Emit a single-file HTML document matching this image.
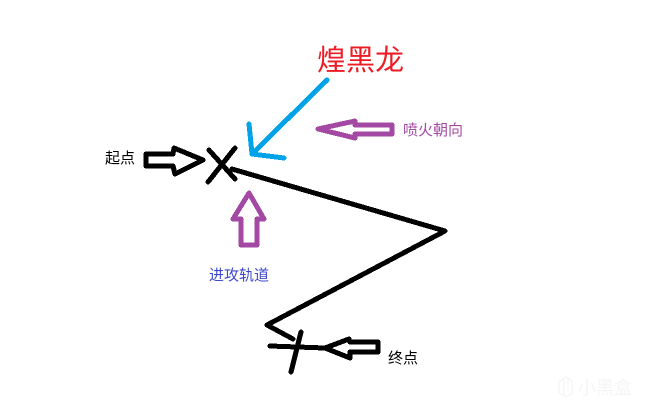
<!DOCTYPE html>
<html><head><meta charset="utf-8">
<style>
html,body{margin:0;padding:0;background:#fff}
svg{display:block}
text{font-family:"Liberation Sans","Noto Sans CJK SC","WenQuanYi Zen Hei",sans-serif}
</style></head>
<body>
<svg width="649" height="411" viewBox="0 0 649 411" xmlns="http://www.w3.org/2000/svg">
<rect width="649" height="411" fill="#fff"/>
<g fill="none" stroke="#000" stroke-width="5" stroke-linecap="round" stroke-linejoin="round" shape-rendering="crispEdges">
<path d="M146 154L173 154L174 148L203 160L175 174L173 166L146 166Z"/>
<path d="M209 150L235 179M235 148L208 182"/>
<path d="M232 169L445 231L267 325L293 339"/>
<path d="M270 346L325 348M301 332L291 372"/>
<path d="M325 348L349 339L350 342L378 342L378 352L350 352L350 358Z"/>
</g>
<g fill="none" stroke="#00a2e8" stroke-width="5" stroke-linecap="round" stroke-linejoin="round" shape-rendering="crispEdges">
<path d="M327 80L252 154M249 124L252 154L284 158"/>
</g>
<g fill="none" stroke="#a349a4" stroke-width="5" stroke-linecap="round" stroke-linejoin="round" shape-rendering="crispEdges">
<path d="M318 129L355 121L355 125L392 125L392 134L355 134L355 138Z"/>
<path d="M249 193L264 219L257 219L257 245L241 245L241 219L233 219Z"/>
</g>
<text x="317" y="70" font-size="29" fill="#ed1c24">煌黑龙</text>
<text x="403" y="135" font-size="15" fill="#a349a4">喷火朝向</text>
<text x="209" y="280" font-size="15" fill="#3f48cc">进攻轨道</text>
<text x="105" y="163" font-size="15" fill="#000">起点</text>
<text x="388" y="363" font-size="15" fill="#000">终点</text>
<path d="M559 382L566 377L572 381V393L566 397L559 393ZM564 380V396M568 379V391" fill="none" stroke="#f6f6f6" stroke-width="1.6"/>
<text x="578" y="394" font-size="18" fill="#f5f5f5">小黑盒</text>
</svg>
</body></html>
